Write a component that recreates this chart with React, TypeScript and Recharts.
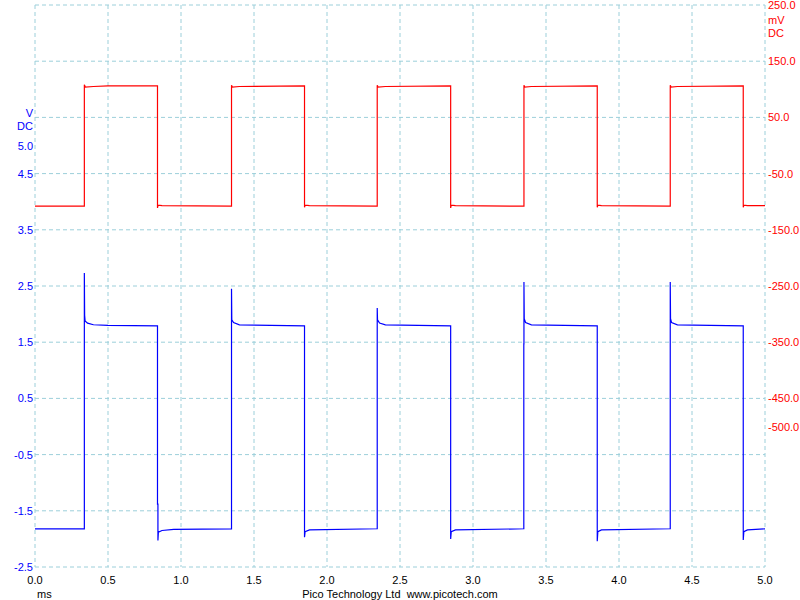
import React from "react";
import { LineChart, Line, XAxis, YAxis, CartesianGrid } from "recharts";

// time axis (ms)
const timeTicks = [0, 0.5, 1.0, 1.5, 2.0, 2.5, 3.0, 3.5, 4.0, 4.5, 5.0];
// left axis (V) labels
const voltTicks = [-2.5, -1.5, -0.5, 0.5, 1.5, 2.5, 3.5, 4.5, 5.0];
// right axis (mV) labels
const milliVoltTicks = [250, 150, 50, -50, -150, -250, -350, -450, -500];
// horizontal grid divisions (in V units)
const gridTicks = [-2.5, -1.5, -0.5, 0.5, 1.5, 2.5, 3.5, 4.5, 5.5, 6.5, 7.5];

// Channel B (blue, V): [time ms, volts]
const blueTrace: [number, number][] = [
  [0.0, -1.82], [0.338, -1.82], [0.338, 2.73], [0.34, 1.98], [0.343, 1.88], [0.36, 1.84], [0.4, 1.81], [0.5, 1.8], [0.839, 1.79],
  [0.839, -1.38], [0.842, -1.38], [0.842, -2.03], [0.845, -1.88], [0.87, -1.85], [0.95, -1.83], [1.346, -1.82],
  [1.346, 2.45], [1.348, 1.9], [1.36, 1.85], [1.4, 1.81], [1.846, 1.79],
  [1.846, -1.97], [1.85, -1.87], [1.88, -1.84], [2.344, -1.82],
  [2.344, 2.11], [2.346, 1.9], [2.36, 1.84], [2.4, 1.81], [2.847, 1.79],
  [2.847, -2.0], [2.851, -1.87], [2.88, -1.84], [3.348, -1.82],
  [3.348, 1.47], [3.349, 1.47], [3.349, 2.57], [3.351, 1.92], [3.36, 1.85], [3.4, 1.81], [3.851, 1.79],
  [3.851, -2.04], [3.855, -1.87], [3.88, -1.84], [4.351, -1.82],
  [4.351, 2.57], [4.353, 1.92], [4.36, 1.85], [4.4, 1.81], [4.851, 1.79],
  [4.851, -2.02], [4.855, -1.87], [4.88, -1.84], [5.0, -1.82],
];

// Channel A (red, mV): [time ms, millivolts]
const redTrace: [number, number][] = [
  [0.0, -108], [0.338, -108], [0.338, 108], [0.345, 104], [0.4, 105], [0.5, 106], [0.839, 106],
  [0.839, -111], [0.843, -106], [0.87, -107], [1.346, -108],
  [1.346, 107], [1.352, 104], [1.4, 105], [1.846, 106],
  [1.846, -110], [1.85, -106], [1.88, -107], [2.344, -108],
  [2.344, 107], [2.35, 104], [2.4, 105], [2.847, 106],
  [2.847, -111], [2.851, -106], [2.88, -107], [3.349, -108],
  [3.349, 107], [3.355, 104], [3.4, 105], [3.851, 106],
  [3.851, -110], [3.855, -106], [3.88, -107], [4.351, -108],
  [4.351, 107], [4.357, 104], [4.4, 105], [4.851, 106],
  [4.851, -110], [4.855, -106], [4.88, -107], [5.0, -107],
];

const blueData = blueTrace.map(([t, v]) => ({ t, v }));
const redData = redTrace.map(([t, v]) => ({ t, v }));

const FONT = "'Liberation Sans', Arial, sans-serif";
const BLUE = "#0000ff";
const RED = "#ff0000";
const GRID = "#9ccfda";

const LeftTick = (props: any) => {
  const { x, y, payload } = props;
  return (
    <g>
      {payload.value === 5 && (
        <>
          <text x={x} y={y - 29} textAnchor="end" fill={BLUE} fontSize={11} fontFamily={FONT}>V</text>
          <text x={x} y={y - 16} textAnchor="end" fill={BLUE} fontSize={11} fontFamily={FONT}>DC</text>
        </>
      )}
      <text x={x} y={y + 4} textAnchor="end" fill={BLUE} fontSize={11} fontFamily={FONT}>
        {Number(payload.value).toFixed(1)}
      </text>
    </g>
  );
};

const RightTick = (props: any) => {
  const { x, y, payload } = props;
  return (
    <g>
      <text x={x} y={y + 4} textAnchor="start" fill={RED} fontSize={11} fontFamily={FONT}>
        {Number(payload.value).toFixed(1)}
      </text>
      {payload.value === 250 && (
        <>
          <text x={x} y={y + 19} textAnchor="start" fill={RED} fontSize={11} fontFamily={FONT}>mV</text>
          <text x={x} y={y + 32} textAnchor="start" fill={RED} fontSize={11} fontFamily={FONT}>DC</text>
        </>
      )}
    </g>
  );
};

const BottomTick = (props: any) => {
  const { x, y, payload } = props;
  return (
    <text x={x} y={y + 17} textAnchor="middle" fill="#000000" fontSize={11} fontFamily={FONT}>
      {Number(payload.value).toFixed(1)}
    </text>
  );
};

export default function App() {
  return (
    <div style={{ position: "absolute", left: 0, top: 0, width: 800, height: 600, background: "#ffffff", fontFamily: FONT }}>
      <LineChart width={800} height={600} margin={{ top: 5, right: 0, bottom: 0, left: 0 }}>
        <CartesianGrid yAxisId="v" horizontalValues={gridTicks} verticalValues={timeTicks} stroke={GRID} strokeDasharray="4 3" />
        <XAxis
          dataKey="t"
          type="number"
          domain={[0, 5]}
          ticks={timeTicks}
          height={33}
          tickLine={false}
          axisLine={false}
          tickSize={0}
          tickMargin={0}
          tick={<BottomTick />}
          interval={0}
        />
        <YAxis
          yAxisId="v"
          orientation="left"
          type="number"
          domain={[-2.5, 7.5]}
          ticks={voltTicks}
          width={35}
          tickLine={false}
          axisLine={false}
          tickSize={0}
          tickMargin={2}
          tick={<LeftTick />}
          interval={0}
        />
        <YAxis
          yAxisId="mv"
          orientation="right"
          type="number"
          domain={[-750, 250]}
          ticks={milliVoltTicks}
          width={35}
          tickLine={false}
          axisLine={false}
          tickSize={0}
          tickMargin={3}
          tick={<RightTick />}
          interval={0}
        />
        <Line
          data={redData}
          dataKey="v"
          yAxisId="mv"
          type="linear"
          stroke={RED}
          strokeWidth={1.2}
          dot={false}
          activeDot={false}
          isAnimationActive={false}
        />
        <Line
          data={blueData}
          dataKey="v"
          yAxisId="v"
          type="linear"
          stroke={BLUE}
          strokeWidth={1.2}
          dot={false}
          activeDot={false}
          isAnimationActive={false}
        />
      </LineChart>
      <div style={{ position: "absolute", left: 37, top: 588, fontSize: 11, lineHeight: "13px", color: "#000" }}>ms</div>
      <div style={{ position: "absolute", left: 0, top: 588, width: 800, textAlign: "center", fontSize: 11, lineHeight: "13px", color: "#000" }}>
        Pico Technology Ltd&nbsp;&nbsp;www.picotech.com
      </div>
    </div>
  );
}
